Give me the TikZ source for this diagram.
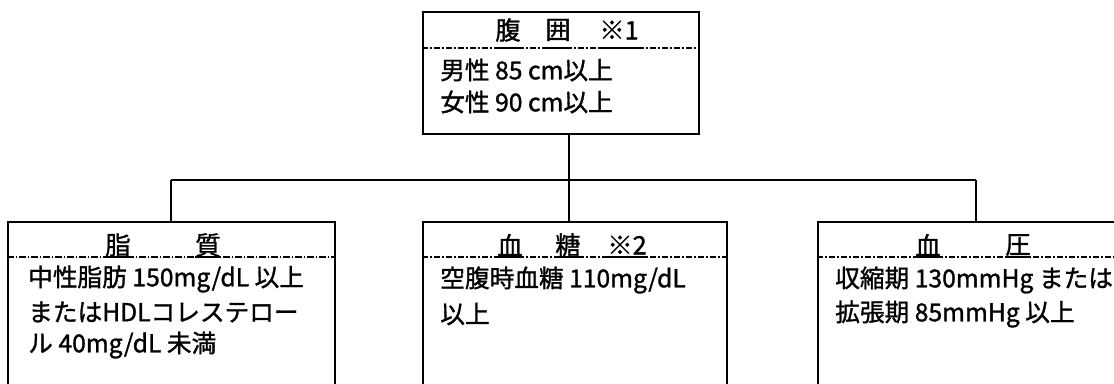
\documentclass[tikz,border=0pt]{standalone}
\usepackage{fontspec}
\newfontfamily\jp[FakeBold=1.2]{Noto Sans CJK JP}
\begin{document}
\begin{tikzpicture}[x=0.75pt,y=-0.75pt,
  boxst/.style={draw,line width=1.8pt,rectangle,inner sep=0pt},
  conn/.style={line width=1.3pt},
  sep/.style={line width=0.9pt,dash pattern=on 5pt off 1.5pt on 1pt off 1.5pt},
  uline/.style={line width=1pt},
  txt/.style={anchor=west,inner sep=0pt,font=\jp\fontsize{18.5}{18.5}\selectfont},
  ttl/.style={anchor=center,inner sep=0pt,font=\jp\fontsize{19}{19}\selectfont}]
\clip (0,0) rectangle (1114,384);
\fill[white] (0,0) rectangle (1114,384);
% boxes
\node[boxst,minimum width=207pt,minimum height=91.5pt] (top) at (561,73) {};
\node[boxst,minimum width=245pt,minimum height=162pt] (lbox) at (171.5,330) {};
\node[boxst,minimum width=228pt,minimum height=162pt] (mbox) at (575,330) {};
\node[boxst,minimum width=273pt,minimum height=162pt] (rbox) at (1000,330) {};
% connectors
\coordinate (jc) at (569,180);
\coordinate (jl) at (171,180);
\coordinate (jr) at (976,180);
\draw[conn] (jl) -- (jr);
\draw[conn] (jc |- top.south) -- (jc |- mbox.north);
\draw[conn] (jl) -- (jl |- lbox.north);
\draw[conn] (jr) -- (jr |- rbox.north);
% separators
\draw[sep] (top.west |- 0,48) -- (top.east |- 0,48);
\draw[sep] (lbox.west |- 0,257) -- (lbox.east |- 0,257);
\draw[sep] (mbox.west |- 0,257) -- (mbox.east |- 0,257);
\draw[sep] (rbox.west |- 0,257) -- (rbox.east |- 0,257);
% top box
\node[ttl] (t1) at (508,30) {腹};
\node[ttl] (t2) at (558,30) {囲};
\node[ttl] (t3) at (619,30) {※1};
\node[txt] (a1) at (440,70) {男性 85 cm以上};
\node[txt] (a2) at (440,102) {女性 90 cm以上};
% left box
\node[ttl] (l1) at (118,245) {脂};
\node[ttl] (l2) at (208,245) {質};
\node[txt] (b1) at (28,279) {中性脂肪 150mg/dL 以上};
\node[txt] (b2) at (28,312) {またはHDLコレステロー};
\node[txt] (b3) at (28,345) {ル 40mg/dL 未満};
% middle box
\node[ttl] (m1) at (510,245) {血};
\node[ttl] (m2) at (568,245) {糖};
\node[ttl] (m3) at (627,245) {※2};
\node[txt] (c1) at (440,280) {空腹時血糖 110mg/dL};
\node[txt] (c2) at (440,314) {以上};
% right box
\node[ttl] (r1) at (928,245) {血};
\node[ttl] (r2) at (1018,245) {圧};
\node[txt] (d1) at (835,280) {収縮期 130mmHg または};
\node[txt] (d2) at (835,314) {拡張期 85mmHg 以上};
% title underlines
\foreach \n/\yy in {t1/48,t2/48,t3/48,l1/257,l2/257,m1/257,m2/257,m3/257,r1/257,r2/257}
  \draw[uline] (\n.west |- 0,\yy) -- (\n.east |- 0,\yy);
\end{tikzpicture}
\end{document}
